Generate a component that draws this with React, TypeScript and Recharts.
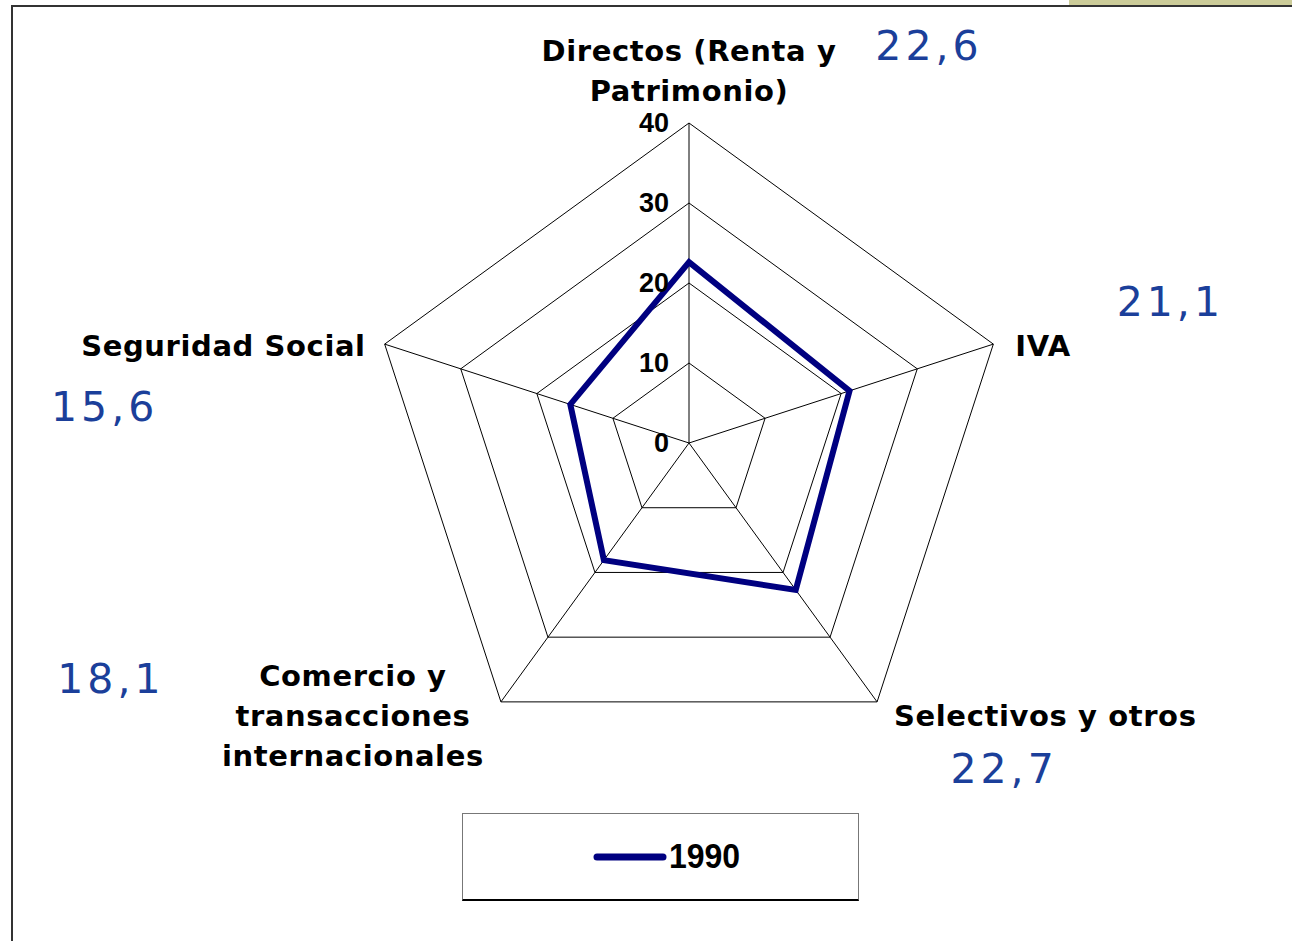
import React from "react";
import {
  RadarChart,
  Radar,
  PolarGrid,
  PolarAngleAxis,
  PolarRadiusAxis,
  Legend,
} from "recharts";

const categories = [
  "Directos (Renta y Patrimonio)",
  "IVA",
  "Selectivos y otros",
  "Comercio y transacciones internacionales",
  "Seguridad Social",
];
const values1990 = [22.6, 21.1, 22.7, 18.1, 15.6];
const radiusTicks = [0, 10, 20, 30, 40];
const seriesName = "1990";

const data = categories.map((name, i) => ({ name, v1990: values1990[i] }));

const CX = 689;
const CY = 443;
const R = 320;
const NAVY = "#000080";
const BLUE = "#1b3f9a";

// how each category label and its value sit next to the grid vertex
const labelLayout = [
  { lines: ["Directos (Renta y", "Patrimonio)"], anchor: "middle", dx: 0, dy: -62, vdx: 240, vdy: -63 },
  { lines: ["IVA"], anchor: "start", dx: 22, dy: 12, vdx: 177, vdy: -28 },
  { lines: ["Selectivos y otros"], anchor: "start", dx: 17, dy: 24, vdx: 127, vdy: 81 },
  { lines: ["Comercio y", "transacciones", "internacionales"], anchor: "middle", dx: -148, dy: -16, vdx: -390, vdy: -9 },
  { lines: ["Seguridad Social"], anchor: "end", dx: -19, dy: 12, vdx: -280, vdy: 77 },
];

const AngleTick = (props: any) => {
  const i = props.index;
  const lay = labelLayout[i];
  const ang = ((90 - i * 72) * Math.PI) / 180;
  const vx = CX + R * Math.cos(ang);
  const vy = CY - R * Math.sin(ang);
  return (
    <g>
      <text
        x={vx + lay.dx}
        y={vy + lay.dy}
        textAnchor={lay.anchor}
        fontFamily="DejaVu Sans, Verdana, sans-serif"
        fontWeight="bold"
        fontSize={29}
        letterSpacing={0.6}
        fill="#000"
      >
        {lay.lines.map((l, k) => (
          <tspan key={k} x={vx + lay.dx} dy={k === 0 ? 0 : 40}>
            {l}
          </tspan>
        ))}
      </text>
      <text
        x={vx + lay.vdx}
        y={vy + lay.vdy}
        textAnchor="middle"
        fontFamily="DejaVu Sans, Verdana, sans-serif"
        fontSize={41}
        letterSpacing={4}
        fill={BLUE}
      >
        {values1990[i].toFixed(1).replace(".", ",")}
      </text>
    </g>
  );
};

const RadiusTick = (props: any) => (
  <text
    x={props.x - 20}
    y={props.y + 9}
    textAnchor="end"
    fontFamily="Liberation Sans, Arial, sans-serif"
    fontWeight="bold"
    fontSize={27}
    fill="#000"
  >
    {props.payload.value}
  </text>
);

const renderLegend = () => (
  <div
    style={{
      boxSizing: "border-box",
      width: 397,
      height: 88,
      borderTop: "1px solid #777",
      borderLeft: "1px solid #777",
      borderRight: "1px solid #777",
      borderBottom: "2px solid #000",
      background: "#fff",
      display: "flex",
      alignItems: "center",
      justifyContent: "center",
      paddingLeft: 12,
    }}
  >
    <svg width={74} height={12} style={{ marginRight: 2 }}>
      <line x1={4} y1={6} x2={70} y2={6} stroke={NAVY} strokeWidth={7} strokeLinecap="round" />
    </svg>
    <span
      style={{
        fontFamily: "Liberation Sans, Arial, sans-serif",
        fontWeight: "bold",
        fontSize: 32,
        color: "#000",
        display: "inline-block",
        transform: "scaleY(1.1)",
      }}
    >
      {seriesName}
    </span>
  </div>
);

export default function App() {
  return (
    <div
      style={{
        position: "absolute",
        left: 0,
        top: 0,
        width: 1292,
        height: 941,
        background: "#fff",
        overflow: "hidden",
      }}
    >
      <div style={{ position: "absolute", left: 1069, top: 0, width: 223, height: 5, background: "#cccc99" }} />
      <div
        style={{
          position: "absolute",
          left: 11,
          top: 5,
          width: 1290,
          height: 950,
          borderTop: "2px solid #333",
          borderLeft: "2px solid #333",
        }}
      />
      <RadarChart
        width={1292}
        height={941}
        cx={CX}
        cy={CY}
        outerRadius={R}
        data={data}
        margin={{ top: 0, right: 0, bottom: 0, left: 0 }}
        style={{ position: "absolute", left: 0, top: 0 }}
      >
        <PolarGrid gridType="polygon" stroke="#000" strokeOpacity={1} strokeWidth={1} />
        <PolarAngleAxis dataKey="name" tick={<AngleTick />} tickLine={false} axisLine={false} />
        <PolarRadiusAxis
          angle={90}
          domain={[0, 40]}
          ticks={radiusTicks}
          tick={<RadiusTick />}
          axisLine={false}
          tickLine={false}
        />
        <Radar
          name={seriesName}
          dataKey="v1990"
          stroke={NAVY}
          strokeWidth={6}
          strokeLinejoin="miter"
          fill="none"
          fillOpacity={0}
          dot={false}
          isAnimationActive={false}
        />
        <Legend
          content={renderLegend}
          wrapperStyle={{ position: "absolute", left: 462, top: 813, width: 397, height: 88, bottom: "auto" }}
        />
      </RadarChart>
    </div>
  );
}
